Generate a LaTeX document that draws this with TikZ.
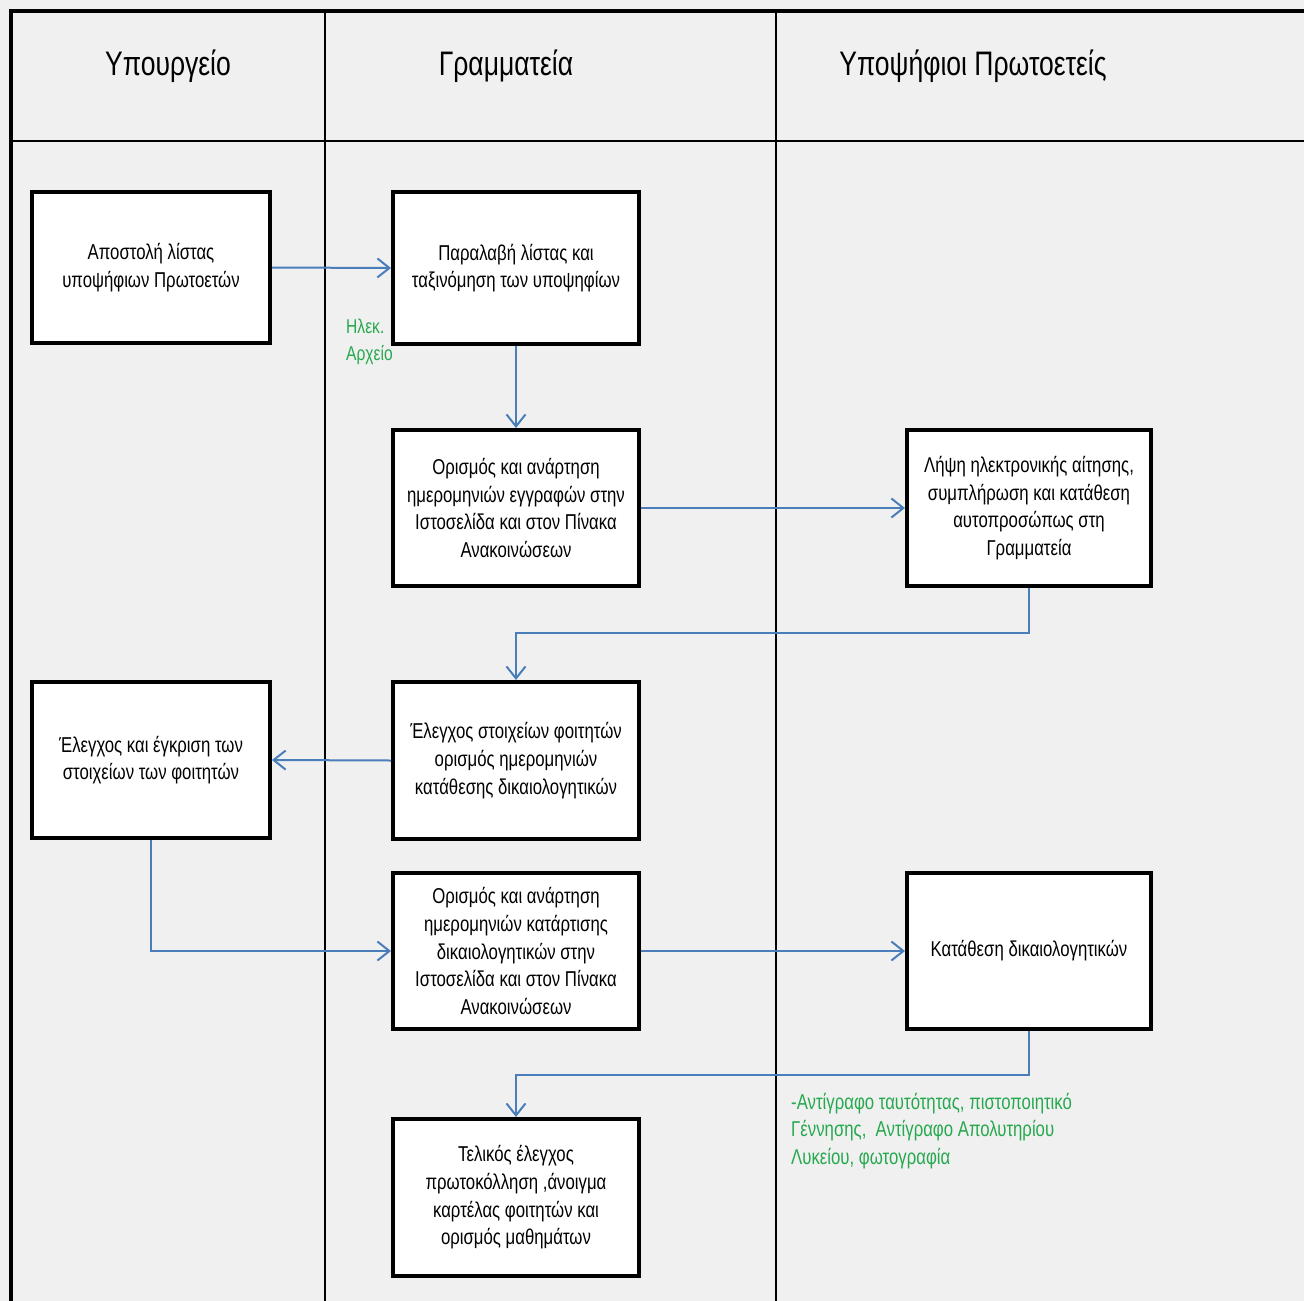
\documentclass[tikz,border=0pt]{standalone}
\usepackage{fontspec}
\setmainfont{Liberation Sans}[FakeStretch=0.78]
\usetikzlibrary{arrows.meta}
\definecolor{lanebg}{RGB}{240,240,240}
\definecolor{flowblue}{RGB}{74,126,187}
\definecolor{notegreen}{RGB}{38,168,78}
\tikzset{
  stepbox/.style={draw=black, fill=white, line width=4pt, align=center,
    minimum width=240pt, minimum height=152pt, inner sep=4pt,
    font=\fontsize{21.5}{27.7}\selectfont},
  flow/.style={draw=flowblue, line width=2pt, -{Straight Barb[length=12pt,width=19pt,line width=2pt]}},
  lanehead/.style={font=\fontsize{34}{40}\selectfont},
  note/.style={text=notegreen, align=left, anchor=north west, inner sep=0pt,
    font=\fontsize{21.5}{27.5}\selectfont},
}
\begin{document}
\begin{tikzpicture}[x=1pt, y=-1pt]
  % page and lane background
  \fill[lanebg] (0,0) rectangle (1304,1301);
  \useasboundingbox (0,0) rectangle (1304,1301);

  % swimlane frame
  \draw[line width=4.5pt] (11,1301) -- (11,11) -- (1304,11);
  \draw[line width=2.5pt] (11,141) -- (1304,141);
  \draw[line width=2pt] (325,11) -- (325,1301);
  \draw[line width=2pt] (776,11) -- (776,1301);

  % lane titles
  \node[lanehead] (h1) at (168,66) {Υπουργείο};
  \node[lanehead] (h2) at (506,66) {Γραμματεία};
  \node[lanehead] (h3) at (973,66) {Υποψήφιοι Πρωτοετείς};

  % process steps
  \node[stepbox, minimum width=238pt, minimum height=151pt] (a) at (151,267.5)
    {Αποστολή λίστας\\υποψήφιων Πρωτοετών};
  \node[stepbox, minimum width=246pt, minimum height=152pt] (b) at (516,268)
    {Παραλαβή λίστας και\\ταξινόμηση των υποψηφίων};
  \node[stepbox, minimum width=246pt, minimum height=156pt] (c) at (516,508)
    {Ορισμός και ανάρτηση\\ημερομηνιών εγγραφών στην\\Ιστοσελίδα και στον Πίνακα\\Ανακοινώσεων};
  \node[stepbox, minimum width=244pt, minimum height=156pt] (d) at (1029,508)
    {Λήψη ηλεκτρονικής αίτησης,\\συμπλήρωση και κατάθεση\\αυτοπροσώπως στη\\Γραμματεία};
  \node[stepbox, minimum width=238pt, minimum height=156pt] (e) at (151,760)
    {Έλεγχος και έγκριση των\\στοιχείων των φοιτητών};
  \node[stepbox, minimum width=246pt, minimum height=157pt] (f) at (516,760.5)
    {Έλεγχος στοιχείων φοιτητών\\ορισμός ημερομηνιών\\κατάθεσης δικαιολογητικών};
  \node[stepbox, minimum width=246pt, minimum height=156pt] (g) at (516,951)
    {Ορισμός και ανάρτηση\\ημερομηνιών κατάρτισης\\δικαιολογητικών στην\\Ιστοσελίδα και στον Πίνακα\\Ανακοινώσεων};
  \node[stepbox, minimum width=244pt, minimum height=156pt] (h) at (1029,951)
    {Κατάθεση δικαιολογητικών};
  \node[stepbox, minimum width=246pt, minimum height=157pt] (i) at (516,1197.5)
    {Τελικός έλεγχος\\πρωτοκόλληση ,άνοιγμα\\καρτέλας φοιτητών και\\ορισμός μαθημάτων};

  % connectors
  \draw[flow] (a.east) -- (b.west);
  \draw[flow] (b.south) -- (c.north);
  \draw[flow] (c.east) -- (d.west);
  \draw[flow] (d.south) -- ++(0,45) -| (f.north);
  \draw[flow] (f.west) -- (e.east);
  \draw[flow] (e.south) |- (g.west);
  \draw[flow] (g.east) -- (h.west);
  \draw[flow] (h.south) -- ++(0,44) -| (i.north);

  % notes
  \node[note, font=\fontsize{20}{27}\selectfont] (n1) at (346,319) {Ηλεκ.\\Αρχείο};
  \node[note] (n2) at (791,1093)
    {-Αντίγραφο ταυτότητας, πιστοποιητικό\\Γέννησης,\ \ Αντίγραφο Απολυτηρίου\\Λυκείου, φωτογραφία};
\end{tikzpicture}
\end{document}
